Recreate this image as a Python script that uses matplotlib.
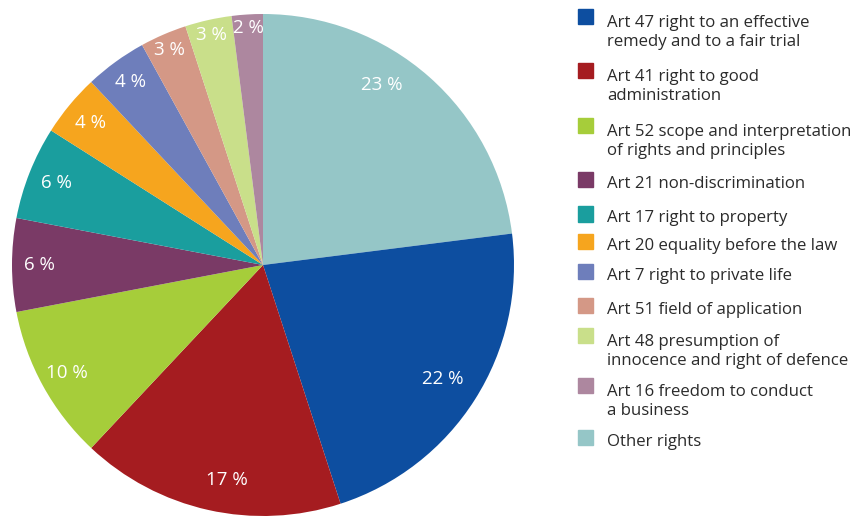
import matplotlib
matplotlib.use("Agg")
import numpy as np
import matplotlib.pyplot as plt
from matplotlib.patches import Rectangle

# clockwise from 12 o'clock
labels = [
    "Other rights",
    "Art 47 right to an effective\nremedy and to a fair trial",
    "Art 41 right to good\nadministration",
    "Art 52 scope and interpretation\nof rights and principles",
    "Art 21 non-discrimination",
    "Art 17 right to property",
    "Art 20 equality before the law",
    "Art 7 right to private life",
    "Art 51 field of application",
    "Art 48 presumption of\ninnocence and right of defence",
    "Art 16 freedom to conduct\na business",
]
shares = [23, 22, 17, 10, 6, 6, 4, 4, 3, 3, 2]
colors = ["#95C6C7", "#0D4EA0", "#A51C20", "#A6CD3A", "#7A3A66", "#1A9E9E",
          "#F6A51E", "#6E7EBB", "#D49886", "#C9DF8A", "#AD879F"]

# legend order as in the reference, y = centre of the colour square (px from top)
legend_order = [1, 2, 3, 4, 5, 6, 7, 8, 9, 10, 0]
legend_y = [16.5, 70.5, 125.5, 179.5, 214, 241.5, 271.5, 305.5, 335.5, 385.5, 437.5]

# radial position of each percentage label (fraction of radius)
label_dist = [0.86, 0.85, 0.87, 0.89, 0.89, 0.885, 0.89, 0.9, 0.935, 0.94, 0.945]
label_turn = [8, 0, 3, 0, 0, 0, 0, 0, 0, 0, 0]  # degrees, ccw

W, H = 860, 516
fig = plt.figure(figsize=(W / 100, H / 100), dpi=100)

cx, cy, r = 263, 265, 251
ax = fig.add_axes([(cx - r) / W, (H - cy - r) / H, 2 * r / W, 2 * r / H])
wedges, texts, autotexts = ax.pie(
    shares, colors=colors, startangle=90, counterclock=False,
    autopct=lambda p: f"{p:.0f} %",
    wedgeprops=dict(linewidth=0),
    textprops=dict(color="white", fontsize=13.5, family="Open Sans"))
for w, t, d, turn in zip(wedges, autotexts, label_dist, label_turn):
    a = np.deg2rad((w.theta1 + w.theta2) / 2 + turn)
    t.set_position((d * np.cos(a), d * np.sin(a)))
ax.set_xlim(-1, 1)
ax.set_ylim(-1, 1)
ax.set_aspect("equal")
ax.axis("off")

txt_color = "#2b2b2b"
sq = 15
line_px = 21
for idx, ypx in zip(legend_order, legend_y):
    fig.patches.append(Rectangle((578 / W, 1 - (ypx + sq / 2) / H), sq / W, sq / H,
                                 transform=fig.transFigure, color=colors[idx]))
    n_extra = labels[idx].count("\n")
    # baseline alignment uses the last line, so shift by the extra lines
    base = ypx + 8.5 + n_extra * line_px
    fig.text(607 / W, 1 - base / H, labels[idx], ha="left", va="baseline",
             fontsize=12.1, family="Open Sans", color=txt_color,
             linespacing=1.25)

fig.savefig("out.png", dpi=100)
